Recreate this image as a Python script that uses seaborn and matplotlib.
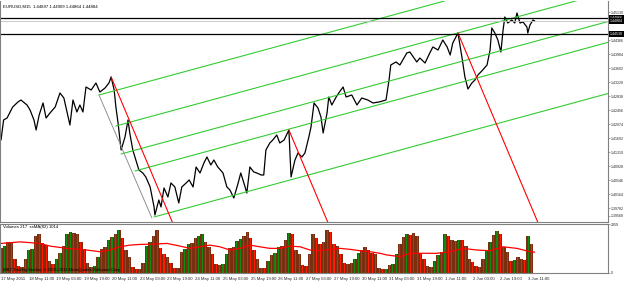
import numpy as np
import matplotlib
matplotlib.use("Agg")
import matplotlib.pyplot as plt
import matplotlib.transforms as mtransforms
import seaborn as sns

# EURUSD M15 closes (bar index from 17 May 2011, price)
price_bars = [0, 6, 14, 27, 39, 46, 60, 67, 76, 81, 88, 97, 104, 113, 125, 136, 145, 155, 159, 166,
              175, 182, 189, 196, 208, 219, 228, 240, 249, 254, 261, 265, 270, 277, 286, 293, 297, 304,
              311, 318, 327, 334, 344, 353, 355, 364, 369, 376, 385, 392, 401, 410, 417, 427, 434, 443,
              450, 459, 468, 475, 484, 491, 500, 512, 521, 528, 537, 547, 553, 563, 567, 574, 583, 590,
              600, 606, 611, 620, 627, 636, 643, 653, 664, 669, 678, 685, 694, 701, 710, 715, 722, 731,
              738, 743, 752, 756, 763, 773, 779, 789, 796, 809, 821, 832, 846, 858, 872, 888, 895, 899,
              911, 920, 936, 943, 959, 966, 978, 989, 996, 1008, 1019, 1029, 1036, 1042, 1054, 1063,
              1070, 1077, 1086, 1093, 1100, 1111, 1121, 1128, 1132, 1139, 1146, 1153, 1158, 1162, 1169,
              1178, 1185, 1190, 1197, 1204, 1213, 1215, 1220, 1227, 1231]
price_vals = [1.41639, 1.42185, 1.42239, 1.42539, 1.42676, 1.42730, 1.42594, 1.42458, 1.42185, 1.41912,
              1.42321, 1.42649, 1.42239, 1.42376, 1.42539, 1.42921, 1.42785, 1.42267, 1.42049, 1.42730,
              1.42403, 1.42594, 1.42403, 1.43085, 1.43003, 1.43194, 1.42948, 1.43058, 1.43194, 1.43357,
              1.43003, 1.42539, 1.42103, 1.41367, 1.41721, 1.42185, 1.41830, 1.41367, 1.41094, 1.40822,
              1.40740, 1.40631, 1.40358, 1.39813, 1.39594, 1.40003, 1.39813, 1.40331, 1.40085, 1.40467,
              1.40358, 1.39922, 1.40358, 1.40467, 1.40549, 1.40358, 1.40903, 1.40740, 1.41012, 1.41176,
              1.40958, 1.41094, 1.40903, 1.40740, 1.40358, 1.40276, 1.40058, 1.40467, 1.40740, 1.40358,
              1.40194, 1.40903, 1.40767, 1.40740, 1.40685, 1.40685, 1.41367, 1.41558, 1.41640, 1.41776,
              1.41558, 1.41640, 1.41912, 1.40631, 1.41094, 1.41285, 1.41176, 1.41285, 1.41721, 1.41994,
              1.42649, 1.42512, 1.42267, 1.41830, 1.42376, 1.42812, 1.42594, 1.42812, 1.42921, 1.43085,
              1.42812, 1.42867, 1.42594, 1.42785, 1.42730, 1.42649, 1.42676, 1.42730, 1.43276, 1.43685,
              1.43767, 1.43685, 1.44012, 1.44039, 1.43767, 1.43876, 1.43739, 1.44012, 1.44176, 1.44094,
              1.44366, 1.44176, 1.43957, 1.44285, 1.44557, 1.43903, 1.43357, 1.43030, 1.43194, 1.43276,
              1.43412, 1.43548, 1.43685, 1.44094, 1.44694, 1.44557, 1.44366, 1.44039, 1.44639, 1.44994,
              1.44830, 1.44912, 1.44830, 1.45103, 1.44830, 1.44857, 1.44721, 1.44557, 1.44775, 1.44912,
              1.44884]

# tick volumes, one reading every 8 bars
vol_step = 8
vol_vals = [1200, 1300, 1500, 1450, 700, 350, 300, 700, 1100, 1150, 1800, 1900, 1450, 1350, 600, 450,
            700, 950, 1300, 1900, 2000, 1950, 1900, 1500, 1150, 500, 300, 350, 800, 1150, 1250, 1600,
            1750, 1900, 2100, 1700, 1100, 800, 300, 200, 180, 500, 1300, 1500, 1800, 2100, 1200, 900,
            800, 500, 250, 250, 1000, 1150, 1400, 1450, 1700, 1800, 1900, 1500, 1250, 900, 450, 380,
            450, 900, 1200, 1250, 1550, 1650, 1800, 2000, 1700, 1100, 700, 250, 240, 600, 880, 950,
            1250, 1300, 1600, 1950, 1900, 1100, 900, 400, 350, 900, 1900, 1700, 1430, 1500, 2100, 2000,
            1400, 1300, 900, 500, 450, 500, 700, 950, 1100, 1270, 1100, 960, 900, 250, 190, 200, 400,
            420, 900, 1400, 1750, 1900, 1850, 1940, 1800, 960, 700, 320, 300, 600, 880, 1000, 1900,
            1800, 1600, 1550, 1600, 1590, 1300, 700, 550, 320, 300, 700, 1100, 1500, 1850, 2050, 1900,
            1270, 1000, 560, 650, 800, 700, 640, 1800, 1430]

# moving average of volume
ma_bars = [0, 44, 90, 113, 152, 198, 228, 251, 274, 297, 321, 351, 383, 413, 436, 459, 482, 505, 528,
           551, 574, 597, 620, 643, 666, 690, 713, 736, 759, 782, 805, 828, 851, 874, 890, 920, 943,
           973, 1005, 1035, 1065, 1098, 1128, 1158, 1190, 1220, 1231]
ma_vals = [1436, 1512, 1436, 1306, 1196, 1115, 1034, 1115, 1273, 1354, 1388, 1402, 1436, 1306, 1196,
           1273, 1354, 1273, 1115, 1196, 1354, 1273, 1196, 1196, 1306, 1273, 1115, 1082, 1148, 1196,
           1148, 1082, 1034, 957, 876, 794, 957, 957, 957, 1034, 1196, 1115, 1082, 1273, 1196, 1034, 1014]

# drawn objects: parallel channel (green), cut lines (red), pitchfork handle (gray)
green_x0 = [226, 265, 277, 309, 353]
green_y0 = [1.42867, 1.42021, 1.41258, 1.40794, 1.39540]
green_x1 = [1400, 1400, 1400, 1400, 1400]
green_y1 = [1.46643, 1.45671, 1.44870, 1.44303, 1.42907]
red_x0 = [254, 664, 1054]
red_y0 = [1.43357, 1.41912, 1.44557]
red_x1 = [414, 824, 1254]
red_y1 = [1.38872, 1.37427, 1.38951]
gray_x = [226, 348]
gray_y = [1.42867, 1.39512]
hline_prices = [1.44966, 1.44530]
bid_price = 1.44884

date_labels = ["17 May 2011", "18 May 11:00", "19 May 03:00", "19 May 19:00", "20 May 11:00",
               "23 May 03:00", "23 May 19:00", "24 May 11:00", "25 May 03:00", "25 May 19:00",
               "26 May 11:00", "27 May 03:00", "27 May 19:00", "30 May 11:00", "31 May 03:00",
               "31 May 19:00", "1 Jun 11:00", "2 Jun 03:00", "2 Jun 19:00", "3 Jun 11:00"]
price_ticks = [1.45130, 1.44366, 1.43984, 1.43602, 1.43220, 1.42838, 1.42456, 1.42074,
               1.41692, 1.41310, 1.40928, 1.40546, 1.40164, 1.39782, 1.39568]

sns.set_style("white")
plt.rcParams['font.family'] = ['Liberation Sans', 'DejaVu Sans']
fs = 3.1
fs_axis = 2.6
grey = '#808080'

fig = plt.figure(figsize=(6.25, 2.82), dpi=100)
ax = fig.add_axes([0, 1 - 222 / 282, 608 / 625, 221 / 282])
axv = fig.add_axes([0, 1 - 273 / 282, 608 / 625, 49 / 282])

# price
sns.lineplot(x=price_bars, y=price_vals, ax=ax, color='black', lw=0.9, sort=False, estimator=None)
for x0, y0, x1, y1 in zip(green_x0, green_y0, green_x1, green_y1):
    ax.plot([x0, x1], [y0, y1], color='#33cc33', lw=0.8)
for x0, y0, x1, y1 in zip(red_x0, red_y0, red_x1, red_y1):
    ax.plot([x0, x1], [y0, y1], color='#ff0000', lw=0.8)
ax.plot(gray_x, gray_y, color='#909090', lw=0.7)
for p in hline_prices:
    ax.axhline(p, color='black', lw=0.9)
ax.axhline(bid_price, color='#c0c0c0', lw=0.6)

ax.set_xlim(-2.3, 1400)
ax.set_ylim(1.39403, 1.45430)
ax.set_xticks([])
ax.yaxis.tick_right()
ax.set_yticks(price_ticks)
ax.set_yticklabels([f"{p:.5f}" for p in price_ticks], fontsize=fs_axis)
ax.tick_params(axis='y', length=1.5, width=0.5, color=grey, pad=0.6)
ax.set_xlabel('')
ax.set_ylabel('')

lab_tr = mtransforms.blended_transform_factory(ax.transAxes, ax.transData)
for p in hline_prices + [bid_price]:
    ax.text(1.003, p, f"{p:.5f}", transform=lab_tr, ha='left', va='center', fontsize=fs_axis,
            color='white', bbox=dict(facecolor='black', edgecolor='none', pad=0.5))

ax.text(0.005, 0.985, "EURUSD,M15  1.44897 1.44909 1.44864 1.44884", transform=ax.transAxes,
        ha='left', va='top', fontsize=fs, color='black')

for s in ['left', 'right', 'bottom']:
    ax.spines[s].set_color(grey)
    ax.spines[s].set_linewidth(0.8)
ax.spines['top'].set_visible(False)

# volumes
vol_bars = np.arange(len(vol_vals)) * vol_step
vol_arr = np.array(vol_vals)
up = np.r_[True, np.diff(vol_arr) >= 0]
axv.bar(vol_bars, vol_arr, width=vol_step, color='#7a3010', linewidth=0)
axv.bar(vol_bars[up], vol_arr[up], width=2.5, color='#108a10', linewidth=0)
axv.bar(vol_bars[~up], vol_arr[~up], width=2.5, color='#ff1a00', linewidth=0)
sns.lineplot(x=ma_bars, y=ma_vals, ax=axv, color='#ff0000', lw=0.9, sort=False, estimator=None)

axv.set_xlim(-2.3, 1400)
axv.set_ylim(0, 2380)
axv.yaxis.tick_right()
axv.set_yticks([0, 2359])
axv.set_yticklabels(["0", "2359"], fontsize=fs_axis)
axv.tick_params(axis='y', length=1.5, width=0.5, color=grey, pad=0.6)
axv.set_xticks(np.arange(len(date_labels)) * 64)
axv.set_xticklabels(date_labels, fontsize=fs, ha='left')
axv.tick_params(axis='x', length=2, width=0.5, color=grey, pad=1)
axv.set_xlabel('')
axv.set_ylabel('')
for s in ['left', 'right', 'bottom', 'top']:
    axv.spines[s].set_color(grey)
    axv.spines[s].set_linewidth(0.8)

axv.text(0.005, 0.97, "Volumes 217  ssMA(82) 1014", transform=axv.transAxes,
         ha='left', va='top', fontsize=fs, color='black')
axv.text(0.005, 0.03, "MBT Trading Station, \u00a9 2001-2011 MetaQuotes Software Corp.",
         transform=axv.transAxes, ha='left', va='bottom', fontsize=fs, color='black')

fig.savefig("out.png", dpi=100)
